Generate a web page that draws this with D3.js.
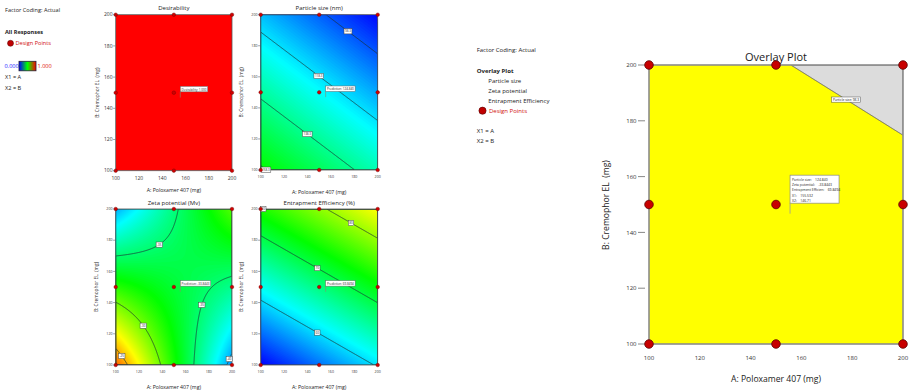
<!DOCTYPE html>
<html><head><meta charset="utf-8">
<script src="https://cdn.jsdelivr.net/npm/d3@7"></script>
<style>
body{margin:0;background:#fff;}
svg{display:block;font-family:"Open Sans","Noto Sans",sans-serif;}
</style></head><body>
<svg id="c" width="909" height="391"></svg>
<script>
// ---------------- DATA ----------------
const designPoints = [[100,100],[150,100],[200,100],[100,150],[150,150],[200,150],[100,200],[150,200],[200,200]];
const axisTicks = [100,120,140,160,180,200];
const optimumA = 155.532, optimumB = 146.71;

const panelTitles = ["Desirability","Particle size (nm)","Zeta potential (Mv)","Entrapment Efficiency (%)"];
const xAxisTitle = "A: Poloxamer 407 (mg)";
const yAxisTitle = "B: Cremophor EL  (mg)";

// fitted response models, coded units x=(A-150)/50, y=(B-150)/50 : [intercept, x, y, xy]
const desirabilityCoef = [1, 0, 0, 0];
const particleSizeCoef = [123.1, -13.25, -23.25, 0];
const zetaCoef = [-33.67, -2.03, -1.69, 6.76];
const entrapmentCoef = [67.24, 5.2, 12.1, 0];

// colour ranges (value mapped to blue..red)
const desirabilityRange = [0, 1];
const particleSizeRange = [86, 232];
const zetaRange = [-44, -21];
const entrapmentRange = [50, 96];

// contour levels and label anchors [level, A]
const particleSizeLevels = [98.3, 118.3, 138.3, 158.3];
const particleSizeLabels = [[98.3,174.6],[118.3,149.6],[138.3,139.8],[158.3,104.5]];
const zetaLevels = [-40, -35, -30, -25];
const zetaLabels = [[-35,137.5],[-35,174],[-30,123.7],[-25,105.2],[-40,197.7]];
const entrapmentLevels = [50, 60, 70, 80];
const entrapmentLabels = [[80,177.2],[70,148.4],[60,148.4],[50,102.2]];

const predictionTexts = ["Desirability: 1.000","Prediction: 124.840","Prediction: -33.8443","Prediction: 69.8494"];

const overlayLimit = 98.3;
const overlayLimitLabelA = 177.6;
const overlayLegend = ["Particle size","Zeta potential","Entrapment Efficiency"];
const overlayTooltipLabels = ["Particle size:","Zeta potential:","Entrapment Efficien:","X1:","X2:"];
const overlayTooltipValues = ["124.840","-33.8443","69.8494","155.532","146.71"];

// ---------------- DRAW ----------------
const svg = d3.select("#c");
const ramp = d3.scaleLinear().domain([0,.25,.5,.75,1])
  .range(["#0000ff","#00ffff","#00ff00","#ffff00","#ff0000"]).clamp(true);
function model(c){return (A,B)=>{const x=(A-150)/50,y=(B-150)/50;return c[0]+c[1]*x+c[2]*y+c[3]*x*y;};}
function solveB(f, level, A){
  let lo=100, hi=200, flo=f(A,lo)-level;
  for(let k=0;k<50;k++){const m=(lo+hi)/2, fm=f(A,m)-level; if((fm>0)===(flo>0)){lo=m;flo=fm;}else hi=m;}
  return (lo+hi)/2;
}
const defs = svg.append("defs");
let clipN = 0;

function grid(f, xs, ys, box, sign){
  const nx=Math.round(box.x1-box.x0), ny=Math.round(box.y1-box.y0);
  const w=box.x1-box.x0, h=box.y1-box.y0;
  const vals=new Float64Array(nx*ny);
  for(let j=0;j<ny;j++)for(let i=0;i<nx;i++){
    vals[j*nx+i]=sign*f(xs.invert(box.x0+(i+0.5)*w/nx), ys.invert(box.y0+(j+0.5)*h/ny));
  }
  const proj=d3.geoTransform({point(x,y){this.stream.point(box.x0+x*w/nx, box.y0+y*h/ny);}});
  return {nx,ny,vals,path:d3.geoPath(proj)};
}

const boxes = [
  {x0:115.7,x1:232,y0:14.7,y1:170.7},
  {x0:260.7,x1:377.7,y0:14.7,y1:170},
  {x0:115.7,x1:232,y0:209,y1:365},
  {x0:260.7,x1:377.7,y0:209,y1:365}
];
const panelDefs = [
  {coef:desirabilityCoef, range:desirabilityRange, levels:[], labels:[], tick:5, big:true},
  {coef:particleSizeCoef, range:particleSizeRange, levels:particleSizeLevels, labels:particleSizeLabels, tick:3.6},
  {coef:zetaCoef, range:zetaRange, levels:zetaLevels, labels:zetaLabels, tick:3.6},
  {coef:entrapmentCoef, range:entrapmentRange, levels:entrapmentLevels, labels:entrapmentLabels, tick:3.6}
];

panelDefs.forEach((p,k)=>{
  const box=boxes[k];
  const xs=d3.scaleLinear().domain([100,200]).range([box.x0,box.x1]);
  const ys=d3.scaleLinear().domain([100,200]).range([box.y1,box.y0]);
  const f=model(p.coef);
  const cid="clip"+(clipN++);
  defs.append("clipPath").attr("id",cid).append("rect")
    .attr("x",box.x0).attr("y",box.y0).attr("width",box.x1-box.x0).attr("height",box.y1-box.y0);
  const g=svg.append("g");
  const pg=g.append("g").attr("clip-path",`url(#${cid})`);
  const G=grid(f,xs,ys,box,1);
  const vmin=d3.min(G.vals), vmax=d3.max(G.vals);
  const norm=v=>(v-p.range[0])/(p.range[1]-p.range[0]);
  pg.append("rect").attr("x",box.x0).attr("y",box.y0).attr("width",box.x1-box.x0).attr("height",box.y1-box.y0)
    .attr("fill",ramp(norm(vmin)));
  if(vmax>vmin){
    const step=(p.range[1]-p.range[0])/160;
    const th=d3.range(p.range[0],p.range[1],step).filter(t=>t>vmin&&t<vmax);
    const cs=d3.contours().size([G.nx,G.ny]).thresholds(th)(G.vals);
    pg.selectAll("path.band").data(cs).join("path").attr("class","band")
      .attr("d",G.path).attr("fill",d=>ramp(norm(d.value+step/2)));
    const ls=d3.contours().size([G.nx,G.ny]).thresholds(p.levels)(G.vals);
    pg.selectAll("path.lvl").data(ls).join("path").attr("class","lvl")
      .attr("d",G.path).attr("fill","none").attr("stroke","#1d3535").attr("stroke-width",0.7);
  }
  // frame
  g.append("rect").attr("x",box.x0).attr("y",box.y0).attr("width",box.x1-box.x0).attr("height",box.y1-box.y0)
    .attr("fill","none").attr("stroke","#555").attr("stroke-width",0.8);
  // contour labels
  p.labels.forEach(([lv,A])=>{
    const B=solveB(f,lv,A);
    const cx=xs(A), cy=ys(B);
    const t=g.append("text").attr("x",cx).attr("y",cy+1.1).attr("text-anchor","middle")
      .attr("font-size",3).attr("fill","#222").text(lv);
    const tw=Math.max(t.node().getComputedTextLength()+2,5);
    g.insert("rect","text:last-child").attr("x",cx-tw/2).attr("y",cy-2.6).attr("width",tw).attr("height",5.2)
      .attr("fill","#fff").attr("stroke","#444").attr("stroke-width",0.5);
    t.raise();
  });
  // design points
  g.selectAll("circle.dp").data(designPoints).join("circle").attr("class","dp")
    .attr("cx",d=>xs(d[0])).attr("cy",d=>ys(d[1])).attr("r",1.8)
    .attr("fill","#d00000").attr("stroke","#6a0000").attr("stroke-width",0.4);
  // ticks
  axisTicks.forEach(t=>{
    g.append("line").attr("x1",box.x0-2.6).attr("x2",box.x0-0.5).attr("y1",ys(t)).attr("y2",ys(t))
      .attr("stroke","#444").attr("stroke-width",0.5);
    g.append("text").attr("x",box.x0-3.2).attr("y",ys(t)+p.tick*0.35).attr("text-anchor","end")
      .attr("font-size",p.tick).attr("fill","#333").text(t);
    g.append("text").attr("x",xs(t)).attr("y",box.y1+(p.big?9:8)).attr("text-anchor","middle")
      .attr("font-size",p.tick).attr("fill","#333").text(t);
  });
  const cxm=(box.x0+box.x1)/2;
  g.append("text").attr("x",cxm).attr("y",box.y0-4.5).attr("text-anchor","middle")
    .attr("font-size",6).attr("fill","#222").text(panelTitles[k]);
  g.append("text").attr("x",cxm).attr("y",box.y1+(p.big?21:23.5)).attr("text-anchor","middle")
    .attr("font-size",5.2).attr("fill","#222").text(xAxisTitle);
  const ytx=box.x0-(p.big?17:17.5), yty=(box.y0+box.y1)/2;
  g.append("text").attr("transform",`translate(${ytx},${yty}) rotate(-90)`).attr("text-anchor","middle")
    .attr("font-size",4.8).attr("fill","#222").style("white-space","pre").text(yAxisTitle);
  // prediction flag
  const px=xs(optimumA), py=ys(optimumB);
  g.append("line").attr("x1",px).attr("x2",px).attr("y1",py-6).attr("y2",py-0.3)
    .attr("stroke","#8a8a6a").attr("stroke-width",0.6);
  const tt=g.append("text").attr("x",px+1.3).attr("y",py-7.3).attr("font-size",3).attr("fill","#222").text(predictionTexts[k]);
  const tw=tt.node().getComputedTextLength()+2.6;
  g.insert("rect","text:last-child").attr("x",px).attr("y",py-11.5).attr("width",tw).attr("height",5.5)
    .attr("fill","#fff").attr("stroke","#666").attr("stroke-width",0.5);
  tt.raise();
});

// ---------- left legend ----------
const lg=svg.append("g").attr("font-size",5.6).attr("fill","#222");
lg.append("text").attr("x",5).attr("y",12).text("Factor Coding: Actual");
lg.append("text").attr("x",5).attr("y",34).attr("font-weight","bold").text("All Responses");
lg.append("circle").attr("cx",10.5).attr("cy",43.3).attr("r",3).attr("fill","#c00000").attr("stroke","#500").attr("stroke-width",0.5);
lg.append("text").attr("x",15.5).attr("y",45.3).attr("fill","#d01010").text("Design Points");
const grad=defs.append("linearGradient").attr("id","lgGrad");
[["0%","#0000ff"],["50%","#00ff00"],["100%","#ff0000"]].forEach(s=>grad.append("stop").attr("offset",s[0]).attr("stop-color",s[1]));
lg.append("text").attr("x",4.5).attr("y",67.6).attr("fill","#2020ff").text(desirabilityRange[0].toFixed(3));
lg.append("rect").attr("x",19).attr("y",61.3).attr("width",17).attr("height",9.5).attr("fill","url(#lgGrad)").attr("stroke","#223").attr("stroke-width",0.8);
lg.append("text").attr("x",37.5).attr("y",67.6).attr("fill","#e01010").text(desirabilityRange[1].toFixed(3));
lg.append("text").attr("x",5).attr("y",79).text("X1 = A");
lg.append("text").attr("x",5).attr("y",90).text("X2 = B");

// ---------- middle legend ----------
const mg=svg.append("g").attr("font-size",6).attr("fill","#222");
mg.append("text").attr("x",476.7).attr("y",52.2).text("Factor Coding: Actual");
mg.append("text").attr("x",476.7).attr("y",72.9).attr("font-weight","bold").text("Overlay Plot");
overlayLegend.forEach((t,i)=>mg.append("text").attr("x",488.3).attr("y",82.9+i*10.2).text(t));
mg.append("circle").attr("cx",482.5).attr("cy",110.7).attr("r",3.6).attr("fill","#c00000").attr("stroke","#500").attr("stroke-width",0.6);
mg.append("text").attr("x",489).attr("y",112.9).attr("fill","#d01010").text("Design Points");
mg.append("text").attr("x",476.7).attr("y",132.9).text("X1 = A");
mg.append("text").attr("x",476.7).attr("y",143.2).text("X2 = B");

// ---------- overlay plot ----------
const ob={x0:649,x1:903,y0:65,y1:344};
const oxs=d3.scaleLinear().domain([100,200]).range([ob.x0,ob.x1]);
const oys=d3.scaleLinear().domain([100,200]).range([ob.y1,ob.y0]);
const og=svg.append("g");
defs.append("clipPath").attr("id","oclip").append("rect")
  .attr("x",ob.x0).attr("y",ob.y0).attr("width",ob.x1-ob.x0).attr("height",ob.y1-ob.y0);
const opg=og.append("g").attr("clip-path","url(#oclip)");
opg.append("rect").attr("x",ob.x0).attr("y",ob.y0).attr("width",ob.x1-ob.x0).attr("height",ob.y1-ob.y0).attr("fill","#ffff00");
const fPS=model(particleSizeCoef);
const OG=grid(fPS,oxs,oys,ob,-1);
const fail=d3.contours().size([OG.nx,OG.ny]).thresholds([-overlayLimit])(OG.vals);
opg.selectAll("path.fail").data(fail).join("path").attr("class","fail").attr("d",OG.path)
  .attr("fill","#dcdcdc").attr("stroke","#5a5a5a").attr("stroke-width",0.9);
og.append("rect").attr("x",ob.x0).attr("y",ob.y0).attr("width",ob.x1-ob.x0).attr("height",ob.y1-ob.y0)
  .attr("fill","none").attr("stroke","#8c8c8c").attr("stroke-width",1.6);
// limit label
{
  const B=solveB(fPS,overlayLimit,overlayLimitLabelA);
  const cx=oxs(overlayLimitLabelA), cy=oys(B);
  const t=og.append("text").attr("x",cx).attr("y",cy+1.2).attr("text-anchor","middle").attr("font-size",3.3).attr("fill","#222")
    .text("Particle size: "+overlayLimit);
  const tw=t.node().getComputedTextLength()+2.5;
  og.insert("rect","text:last-child").attr("x",cx-tw/2).attr("y",cy-2.6).attr("width",tw).attr("height",5.2)
    .attr("fill","#fff").attr("stroke","#555").attr("stroke-width",0.5);
  t.raise();
}
// ticks
axisTicks.forEach(t=>{
  og.append("line").attr("x1",ob.x0-11).attr("x2",ob.x0-4).attr("y1",oys(t)).attr("y2",oys(t)).attr("stroke","#555").attr("stroke-width",0.7);
  og.append("text").attr("x",ob.x0-12.5).attr("y",oys(t)+2.1).attr("text-anchor","end").attr("font-size",6).attr("fill","#333").text(t);
  og.append("text").attr("x",oxs(t)).attr("y",ob.y1+16).attr("text-anchor","middle").attr("font-size",6).attr("fill","#333").text(t);
});
og.append("text").attr("x",776).attr("y",61).attr("text-anchor","middle").attr("font-size",11).attr("fill","#222").text("Overlay Plot");
og.append("text").attr("x",776).attr("y",382).attr("text-anchor","middle").attr("font-size",8.6).attr("fill","#222").text(xAxisTitle);
og.append("text").attr("transform","translate(609,205) rotate(-90)").attr("text-anchor","middle").attr("font-size",8.6).attr("fill","#222")
  .style("white-space","pre").text(yAxisTitle);
// design points
og.selectAll("circle.dp").data(designPoints).join("circle").attr("class","dp")
  .attr("cx",d=>oxs(d[0])).attr("cy",d=>oys(d[1])).attr("r",4.3)
  .attr("fill","#c80000").attr("stroke","#5a0000").attr("stroke-width",0.8);
// tooltip
{
  const px=oxs(optimumA), py=oys(optimumB);
  og.append("line").attr("x1",px).attr("x2",px).attr("y1",py-10.5).attr("y2",py).attr("stroke","#999").attr("stroke-width",0.8);
  const bx=px, by=py-38.5, bw=49, bh=28;
  og.append("rect").attr("x",bx).attr("y",by).attr("width",bw).attr("height",bh).attr("fill","#fff").attr("stroke","#888").attr("stroke-width",0.7);
  overlayTooltipLabels.forEach((l,i)=>{
    const t=og.append("text").attr("x",bx+2).attr("y",by+5.6+i*5.3).attr("font-size",3.4).attr("fill","#222").text(l);
    const w=t.node().getComputedTextLength();
    og.append("text").attr("x",bx+2+w+3.5).attr("y",by+5.6+i*5.3).attr("font-size",3.4).attr("fill","#222").text(overlayTooltipValues[i]);
  });
}
</script>
</body></html>
